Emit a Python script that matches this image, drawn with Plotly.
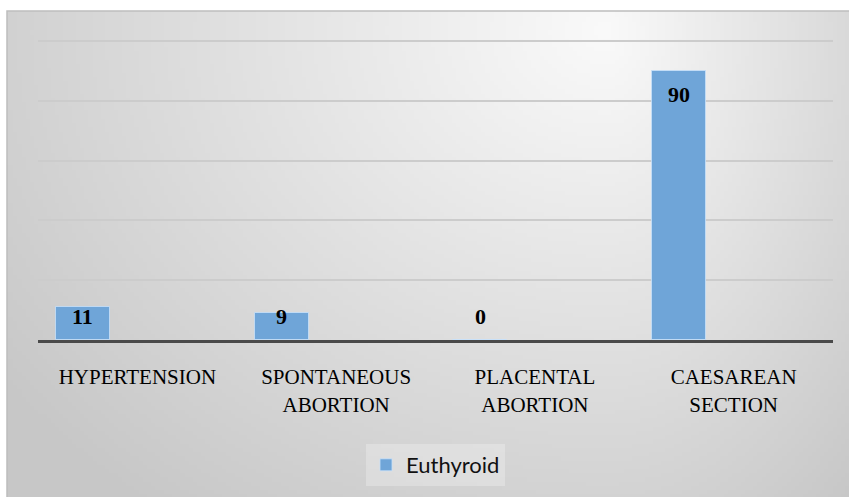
import base64
import struct
import zlib

import plotly.graph_objects as go

# data
categories = ['HYPERTENSION', 'SPONTANEOUS ABORTION', 'PLACENTAL ABORTION', 'CAESAREAN SECTION']
tick_labels = ['HYPERTENSION', 'SPONTANEOUS<br>ABORTION', 'PLACENTAL<br>ABORTION', 'CAESAREAN<br>SECTION']
euthyroid = [11, 9, 0, 90]
y_ticks = [0, 20, 40, 60, 80, 100]

SERIF = 'Liberation Serif, Times New Roman, serif'
BAR_OFFSET = -0.41
BAR_WIDTH = 0.272
LABEL_FLOOR = 15.7  # Excel keeps labels of short bars above the axis

W, H = 849, 497
L, R, T, B = 38, 16, 38, 156


def background_png(w=211, h=122):
    """Light radial-ish grey gradient like the Excel chart fill."""
    raw = b''
    for j in range(h):
        y = 11 + (j + 0.5) * (H - 11) / h
        row = bytearray([0])
        for i in range(w):
            x = 7 + (i + 0.5) * (W - 7) / w
            dx = (x - 580) / (650 if x < 580 else 330)
            dy = (y - 30) / 520
            d = min((dx * dx + dy * dy) ** 0.5, 1.1)
            row.append(int(250 - 46 * d))
        raw += bytes(row)

    def chunk(tag, data):
        return (struct.pack('>I', len(data)) + tag + data
                + struct.pack('>I', zlib.crc32(tag + data) & 0xffffffff))

    png = (b'\x89PNG\r\n\x1a\n'
           + chunk(b'IHDR', struct.pack('>IIBBBBB', w, h, 8, 0, 0, 0, 0))
           + chunk(b'IDAT', zlib.compress(raw, 9))
           + chunk(b'IEND', b''))
    return 'data:image/png;base64,' + base64.b64encode(png).decode()


pw, ph = W - L - R, H - T - B
x0, x1 = (7 - L) / pw, (W - L) / pw
y0, y1 = -B / ph, 1 + (T - 11) / ph

fig = go.Figure()
fig.add_trace(go.Bar(
    x=categories,
    y=euthyroid,
    name='Euthyroid',
    offset=BAR_OFFSET,
    width=BAR_WIDTH,
    marker=dict(color='#6fa5d8', line=dict(color='rgba(200,225,250,0.8)', width=1)),
    showlegend=True,
))

for i, v in enumerate(euthyroid):
    fig.add_annotation(
        x=i + BAR_OFFSET + BAR_WIDTH / 2,
        y=max(v, LABEL_FLOOR),
        text='<b>%d</b>' % v,
        showarrow=False,
        yanchor='top',
        yshift=-9,
        font=dict(family=SERIF, size=22, color='#000000'),
    )

fig.add_layout_image(
    source=background_png(),
    xref='paper', yref='paper',
    x=x0, y=y1, sizex=x1 - x0 + 0.05, sizey=y1 - y0 + 0.1,
    xanchor='left', yanchor='top',
    sizing='stretch', layer='below',
)
# frame: only the top and left edges are inside the window
fig.add_shape(
    type='rect', xref='paper', yref='paper',
    x0=x0, x1=x1 + 0.05, y0=y0 - 0.1, y1=y1,
    line=dict(color='#bdbdbd', width=1.5),
    layer='below',
)

fig.update_layout(
    width=W, height=H,
    margin=dict(l=L, r=R, t=T, b=B),
    paper_bgcolor='white',
    plot_bgcolor='rgba(0,0,0,0)',
    bargap=0,
    legend=dict(
        orientation='h',
        x=0.5, xanchor='center',
        y=-124 / ph, yanchor='middle',
        bgcolor='rgba(255,255,255,0.25)',
        font=dict(family='Lato, Carlito, Calibri, sans-serif', size=22, color='#111111'),
        itemwidth=30,
    ),
    xaxis=dict(
        tickvals=categories,
        ticktext=tick_labels,
        tickfont=dict(family=SERIF, size=21, color='#000000'),
        showline=True, linecolor='#4a4a4a', linewidth=3,
        showgrid=False, ticks='',
        ticklabelstandoff=16,
    ),
    yaxis=dict(
        range=[0, 101],
        tickvals=y_ticks,
        showticklabels=False,
        showgrid=True, gridcolor='#cccccc', gridwidth=2,
        zeroline=False,
        fixedrange=True,
    ),
)

# the page body has a default 8px margin; drop it so the figure sits at the window corner
fig.write_html(
    'out.html',
    config={'displayModeBar': False},
    post_script="document.body.style.margin='0px';",
)
